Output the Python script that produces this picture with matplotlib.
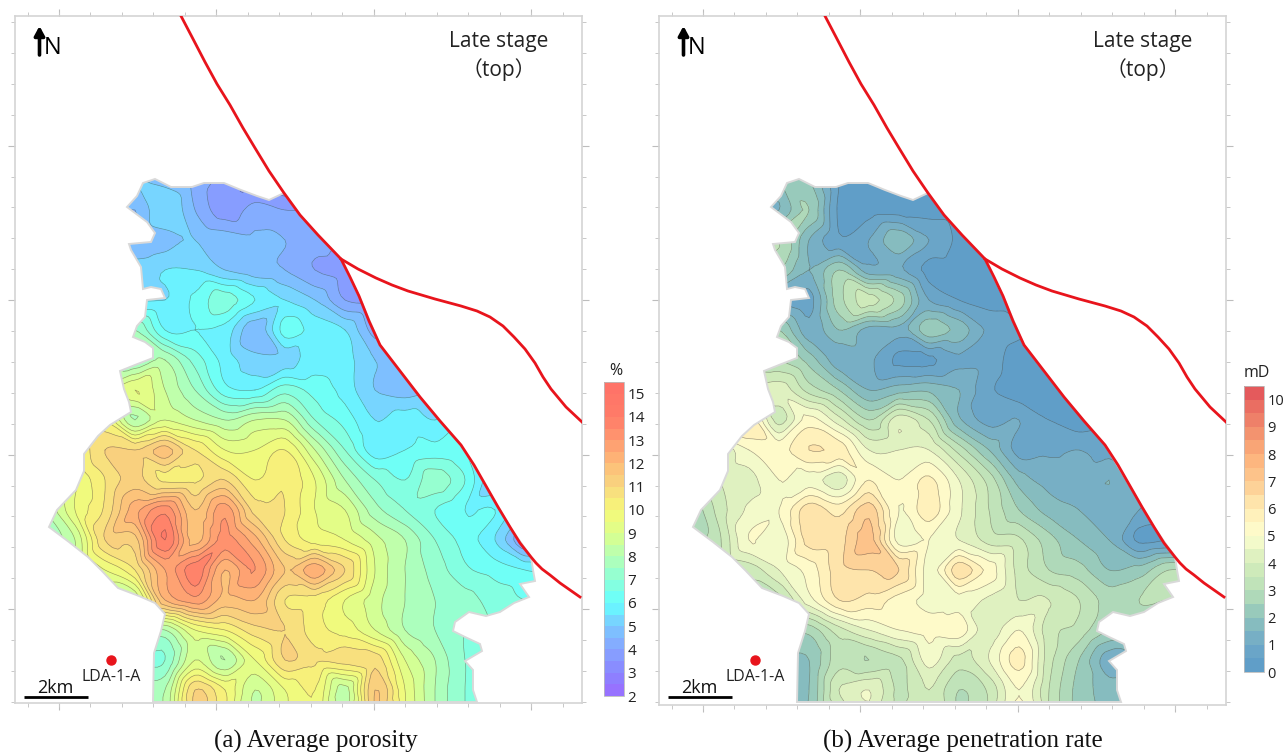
import numpy as np
import matplotlib
matplotlib.use('Agg')
import matplotlib.pyplot as plt
import matplotlib.tri as mtri
from matplotlib.colors import LinearSegmentedColormap, Normalize
from matplotlib.patches import Polygon

W, H = 1284, 753

# grid the map values were read on (picture pixels, panel a)
grid_x = [45, 75, 105, 135, 165, 195, 225, 255, 285, 315, 345, 375, 405, 435, 465, 495, 525, 555]
grid_y = [180, 210, 240, 270, 300, 330, 360, 390, 420, 450, 480, 510, 540, 570, 600, 630, 660, 690, 720]

porosity = [
    [5, 5, 5, 5, 4.8, 4.3, 3.8, 3.3, 2.8, 3, 3, 3, 3, 3, 3, 3, 3, 3],
    [5, 5, 5, 4.5, 5.5, 4.5, 3.7, 4.2, 4, 4, 4, 4, 4, 4, 4, 4, 4, 4],
    [5, 5, 5, 4.5, 4.8, 5, 4.8, 4.6, 4.5, 4.2, 4, 4, 4, 4, 4, 4, 4, 4],
    [5.5, 5.5, 5.5, 5.3, 5.5, 5.5, 5, 4.7, 4.5, 4, 3.8, 3.8, 4, 4, 4, 4, 4, 4],
    [6, 6, 6, 5.5, 5.5, 6.1, 6.8, 6, 5.5, 5, 4, 3.9, 4, 4, 4, 4, 4, 4],
    [8, 8, 7.5, 7.5, 6, 6, 5.8, 4.6, 6.2, 5.8, 5.5, 4.3, 4.5, 5, 5, 5, 5, 5],
    [8, 8, 8, 7.5, 8, 6.8, 5.8, 5.2, 5.2, 5.8, 5.7, 5, 5, 5, 5, 5, 5, 5],
    [9, 9, 9, 9.5, 8.5, 7.5, 6.2, 6, 6.8, 6.3, 5.8, 5, 4.8, 5, 5, 5, 5, 5],
    [10, 10, 10, 8, 9, 8.5, 8, 8.5, 8.5, 7, 6.3, 5.5, 5.8, 5.5, 6, 6, 6, 6],
    [10, 10, 11, 11, 11.7, 10.5, 9.5, 9.5, 10, 8.5, 7, 5.7, 6, 6.2, 6, 6, 6, 6],
    [9, 9.5, 10.5, 11.2, 10.4, 10.4, 11, 10, 10.4, 9.5, 8, 7, 6.5, 7.3, 6.5, 5, 5, 5],
    [8, 9.5, 10.6, 12.3, 13.3, 11.5, 12.8, 10.8, 10.5, 9.5, 9, 7.7, 7, 6.5, 6, 6, 5, 5],
    [7.5, 8.5, 11, 11.3, 14, 11.8, 13.2, 12.2, 10.5, 9.8, 9.5, 8.7, 8, 7, 6.3, 5.5, 4, 4],
    [8, 8.5, 9.5, 10.5, 12.5, 13.8, 12, 13, 11.5, 12.3, 11, 9, 8, 7.3, 6.6, 6.3, 6, 6],
    [8, 8, 8.5, 8.5, 12, 12.8, 11.8, 12, 10.5, 10.3, 9.5, 8.7, 8, 7.5, 7.2, 6.8, 6.5, 6.5],
    [8, 8, 8, 8, 8, 9.5, 10, 10.8, 11, 10.2, 9.8, 9, 8, 7.5, 7, 7, 7, 7],
    [7, 7, 7, 7, 7, 9, 8, 9.5, 11, 10.6, 10.7, 10.8, 9, 8, 7, 7, 7, 7],
    [8, 8, 8, 8, 8, 11, 10, 8.5, 9.5, 10, 8.3, 11.5, 9.5, 8, 7, 7, 7, 7],
    [8, 8, 8, 8, 8, 11, 10, 8.5, 9.5, 10, 8.3, 11.5, 9.5, 8, 7, 7, 7, 7],
]

penetration = [
    [2, 2, 2, 2, 2, 0.5, 0.3, 0.3, 0.3, 0.3, 0.3, 0.3, 0.3, 0.3, 0.3, 0.3, 0.3, 0.3],
    [1.5, 1.5, 1.5, 1.5, 2.5, 0.4, 0.3, 0.3, 0.3, 0.3, 0.3, 0.3, 0.3, 0.3, 0.3, 0.3, 0.3, 0.3],
    [3, 3, 3, 3, 1.5, 0.6, 1, 1.9, 1, 0.4, 0.3, 0.3, 0.3, 0.3, 0.3, 0.3, 0.3, 0.3],
    [2.5, 2.5, 2.5, 2.5, 1.5, 2.5, 1.2, 1.1, 0.3, 0.2, 0.2, 0.2, 0.2, 0.2, 0.2, 0.2, 0.2, 0.2],
    [1, 1, 1, 1, 0.8, 2.8, 3.7, 2.8, 1, 0.5, 0.3, 0.3, 0.3, 0.3, 0.3, 0.3, 0.3, 0.3],
    [2.5, 2.5, 2.5, 2.5, 1.2, 2, 1.3, 1.3, 2.3, 1.8, 0.9, 0.6, 0.5, 0.5, 0.5, 0.5, 0.5, 0.5],
    [3, 3, 3, 3, 2.3, 1.2, 1.1, 0.4, 0.4, 0.9, 0.8, 0.2, 0.2, 0.2, 0.2, 0.2, 0.2, 0.2],
    [4.3, 4.3, 4.3, 4.3, 3.3, 2.5, 1.5, 1.8, 1.9, 1.5, 0.6, 0.2, 0.2, 0.2, 0.2, 0.2, 0.2, 0.2],
    [6, 6, 6, 3.8, 5.2, 4.2, 3, 4.3, 3.5, 1.6, 0.8, 1, 0.5, 0.2, 0.3, 0.3, 0.3, 0.3],
    [4, 4, 5, 5.3, 6, 5.8, 4.5, 4.5, 4.5, 3.3, 2, 0.8, 0.9, 1, 0.8, 0.8, 0.8, 0.8],
    [4, 4, 4.3, 5, 4.8, 4.2, 5.5, 5, 5.6, 4.5, 3.3, 1.8, 1.3, 1.2, 1.5, 1, 1, 1],
    [2.5, 3.7, 4.6, 5, 6.3, 5.8, 6.8, 5, 5.8, 4.6, 3.5, 2.5, 1.8, 1.5, 1.2, 1, 1, 1],
    [2.6, 3.4, 5, 4.6, 6.2, 6.3, 7.2, 4.8, 5, 4.5, 3.8, 3.6, 2.7, 2, 1.5, 0.4, 0.5, 0.5],
    [3, 3.4, 3.7, 4.5, 5.2, 6.3, 6.5, 6.5, 4.8, 6.3, 5.3, 3.8, 3, 2.7, 2, 2.2, 3, 3],
    [3.3, 3.3, 3.3, 3.3, 4.8, 6, 5.8, 5.3, 4.8, 4.8, 4.4, 4, 4, 3.5, 2.8, 3, 3, 3],
    [2.7, 2.7, 2.7, 2.7, 2.7, 3.8, 4.5, 5, 5.2, 5.3, 4.2, 5, 3.7, 3.3, 2.5, 2.5, 2.5, 2.5],
    [2, 2, 2, 2, 2, 3.3, 3, 3.4, 4.7, 3.8, 4.5, 5.7, 3.7, 2.5, 1.2, 1.2, 1.2, 1.2],
    [2, 2, 2, 2, 2, 4, 4.5, 3.4, 4, 3, 3.6, 5, 3.5, 2.3, 1.8, 1.8, 1.8, 1.8],
    [2, 2, 2, 2, 2, 3, 4.2, 3.4, 4, 3, 3.6, 5.3, 3.5, 2.3, 1.8, 1.8, 1.8, 1.8],
]

# outline of the mapped area
outline_x = [143, 155, 171, 192, 204, 224, 241, 257, 269, 284, 300, 318, 341, 359, 380, 420, 461, 486, 510, 531,
             533, 535, 520, 529, 514, 500, 486, 469, 455, 453, 465, 480, 482, 465, 473, 473, 477,
             153, 154, 161, 165, 155, 139, 118, 102, 88, 69, 49, 57, 76, 84, 84, 98, 110, 131, 129, 124, 120,
             135, 153, 153, 145, 133, 137, 145, 147, 165, 161, 151, 143, 141, 131, 129, 151, 155, 147, 127, 137]
outline_y = [183, 179, 187, 187, 183, 183, 190, 196, 200, 193, 215, 235, 259, 296, 345, 397, 445, 486, 527, 557,
             570, 581, 584, 597, 603, 612, 616, 612, 622, 631, 637, 644, 651, 661, 670, 690, 702,
             702, 653, 631, 614, 603, 596, 588, 571, 557, 542, 527, 510, 490, 471, 454, 436, 425, 412, 402, 389, 371,
             365, 358, 348, 342, 337, 326, 317, 300, 298, 289, 287, 289, 267, 250, 244, 242, 233, 222, 207, 196]

# faults
fault_x = [181, 192, 205, 217, 230, 243, 255, 269, 284, 300, 318, 341, 350, 359, 369, 380, 400, 420, 440, 461,
           474, 486, 498, 510, 520, 531, 536, 542, 550, 560, 580]
fault_y = [16, 37, 62, 84, 105, 128, 148, 171, 193, 215, 235, 259, 277, 296, 321, 345, 371, 397, 421, 445,
           465, 486, 507, 527, 543, 557, 563, 569, 575, 583, 597]
branch_x = [341, 358, 376, 392, 408, 435, 461, 477, 490, 503, 514, 525, 535, 543, 551, 566, 582]
branch_y = [259, 269, 278, 285, 291, 299, 306, 311, 317, 326, 337, 349, 363, 377, 389, 407, 422]

porosity_colors = ['#9B6CFF', '#8A86FF', '#86A5FF', '#7CC8FF', '#66FFFF', '#8CFFD8', '#B5FFB5', '#DCFF8C',
                   '#F7F878', '#F8D880', '#FDBB78', '#FF9A70', '#FF7C68', '#FF7268']
porosity_stops = [2, 3, 4, 5, 6, 7, 8, 9, 10, 11, 12, 13, 14, 15.5]
penetration_colors = ['#5B9BC8', '#6FA8C8', '#8FC4BC', '#B9E0B8', '#D5EDBB', '#FEFFD0', '#FFEDB5', '#FDC98F',
                      '#FDB07A', '#F08A6C', '#E8655F', '#E0505A']
penetration_stops = [0, 1, 2, 3, 4, 5, 6, 7, 8, 9, 10, 10.5]

plt.rcParams['font.family'] = ['Open Sans', 'Noto Sans CJK SC', 'DejaVu Sans']


def make_cmap(stops, colors):
    lo, hi = stops[0], stops[-1]
    pairs = [((s - lo) / (hi - lo), c) for s, c in zip(stops, colors)]
    return LinearSegmentedColormap.from_list('bands', pairs)


def draw_panel(fig, left, frame_bottom, values, stops, colors, cbar_box, unit, unit_xy, caption, cap_x, ticks, tick_size):
    ax = fig.add_axes([left / W, 1 - frame_bottom / H, 567 / W, (frame_bottom - 16) / H])
    ax.set_xlim(15, 582)
    ax.set_ylim(frame_bottom, 16)

    gx, gy = np.meshgrid(grid_x, grid_y)
    tri = mtri.Triangulation(gx.ravel(), gy.ravel())
    z = np.array(values, dtype=float).ravel()
    interp = mtri.CubicTriInterpolator(tri, z, kind='geom')
    fine_tri, fine_z = mtri.UniformTriRefiner(tri).refine_field(z, triinterpolator=interp, subdiv=3)

    lo, hi = stops[0], stops[-1]
    levels = np.arange(lo, hi + 0.25, 0.5)
    fine_z = np.clip(fine_z, lo + 0.01, hi - 0.01)
    cmap = make_cmap(stops, colors)
    norm = Normalize(lo, hi)

    outline = Polygon(np.column_stack([outline_x, outline_y]), closed=True, fc='none', ec='#d9d9d9', lw=1.4, zorder=3)
    ax.add_patch(outline)
    cf = ax.tricontourf(fine_tri, fine_z, levels=levels, cmap=cmap, norm=norm, zorder=1)
    cl = ax.tricontour(fine_tri, fine_z, levels=levels, colors='#3a3a3a', linewidths=0.45, alpha=0.5, zorder=2)
    cf.set_clip_path(outline)
    cl.set_clip_path(outline)

    ax.plot(fault_x, fault_y, color='#e8141c', lw=2, zorder=4)
    ax.plot(branch_x, branch_y, color='#e8141c', lw=2, zorder=4)

    # frame and the ticks on all four sides
    for s in ax.spines.values():
        s.set_color('#d4d4d4')
        s.set_linewidth(1.2)
    ax.set_xticks(np.arange(59, 582, 157.4))
    ax.set_xticks(np.arange(27.5, 582, 31.48), minor=True)
    ax.set_yticks(np.arange(145.6, frame_bottom, 154.5))
    ax.set_yticks(np.arange(22, frame_bottom, 30.9), minor=True)
    ax.tick_params(which='major', length=5, width=0.8, color='#bdbdbd', top=True, right=True,
                   labelbottom=False, labelleft=False)
    ax.tick_params(which='minor', length=3, width=0.7, color='#c8c8c8', top=True, right=True)

    # north arrow
    ax.annotate('', xy=(39.5, 26), xytext=(39.5, 55),
                arrowprops=dict(arrowstyle='-|>,head_width=0.3,head_length=0.55', color='black', lw=2.6,
                                shrinkA=0, shrinkB=0))
    ax.text(44, 48, 'N', fontsize=17, ha='left', va='center', color='black')

    ax.text(499, 41, 'Late stage', fontsize=15, ha='center', va='center', color='#222222')
    ax.text(499, 70, '（top）', fontsize=15, ha='center', va='center', color='#222222')

    # well and scale bar
    ax.plot([111], [660], 'o', color='#e8141c', ms=6.5, zorder=5)
    ax.text(111, 677, 'LDA-1-A', fontsize=11.5, ha='center', va='center', color='#222222')
    ax.plot([24, 88], [697, 697], color='black', lw=2, solid_capstyle='butt')
    ax.text(55, 688, '2km', fontsize=13, ha='center', va='center', color='#111111')

    fig.text(cap_x / W, 1 - 741 / H, caption, fontsize=18, family='Liberation Serif', ha='center', va='center',
             color='#111111')

    x0, y0, x1, y1 = cbar_box
    cax = fig.add_axes([x0 / W, 1 - y1 / H, (x1 - x0) / W, (y1 - y0) / H])
    cb = fig.colorbar(cf, cax=cax, ticks=ticks)
    cb.ax.tick_params(length=0, labelsize=tick_size, pad=2.5, labelcolor='#222222')
    cb.outline.set_edgecolor('#bbbbbb')
    cb.outline.set_linewidth(0.6)
    fig.text(unit_xy[0] / W, 1 - unit_xy[1] / H, unit, fontsize=11.5, ha='center', va='center', color='#222222')
    return ax


fig = plt.figure(figsize=(W / 100, H / 100), dpi=100, facecolor='white')
draw_panel(fig, 15, 703, porosity, porosity_stops, porosity_colors, (604, 382, 624, 696),
           '%', (616, 371), '(a) Average porosity', 316, list(range(2, 16)), 11)
draw_panel(fig, 659, 705, penetration, penetration_stops, penetration_colors, (1244, 386, 1264, 672),
           'mD', (1257, 373), '(b) Average penetration rate', 963, list(range(0, 11)), 10.5)
fig.savefig('out.png', dpi=100)
